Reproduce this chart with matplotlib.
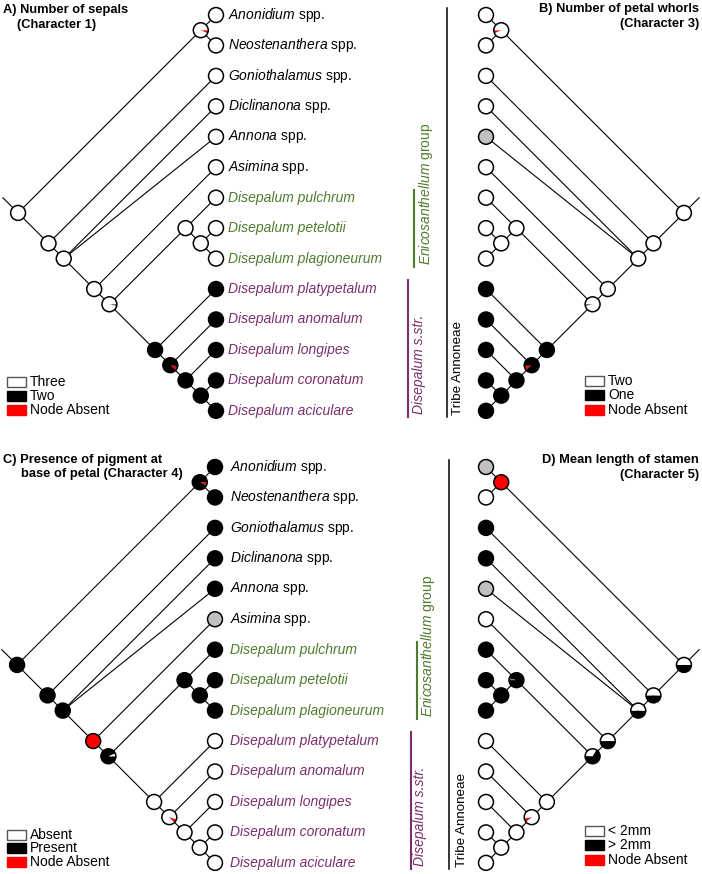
import matplotlib
matplotlib.use("Agg")
import matplotlib.pyplot as plt
from matplotlib.patches import Wedge, Circle, Rectangle

plt.rcParams['font.family'] = ['Liberation Sans', 'DejaVu Sans']
plt.rcParams['mathtext.fontset'] = 'custom'
plt.rcParams['mathtext.it'] = 'Liberation Sans:italic'
plt.rcParams['mathtext.rm'] = 'Liberation Sans'
plt.rcParams['mathtext.bf'] = 'Liberation Sans:bold'

W, K, R, G = 'white', 'black', '#ff0000', '#c0c0c0'
GREEN = '#4e7b2e'
PURPLE = '#7b2d6c'

# taxa, top to bottom
taxa = ["Anonidium", "Neostenanthera", "Goniothalamus", "Diclinanona", "Annona", "Asimina",
        "Disepalum pulchrum", "Disepalum petelotii", "Disepalum plagioneurum",
        "Disepalum platypetalum", "Disepalum anomalum", "Disepalum longipes",
        "Disepalum coronatum", "Disepalum aciculare"]
groups = ['out'] * 6 + ['enic'] * 3 + ['diss'] * 5

# tree topology: node -> children (tip index or node name)
tree = {
    'root': ['AN', 'n2'],
    'AN': [0, 1],
    'n2': [2, 'n3'],
    'n3': [3, 4, 'n4'],
    'n4': [5, 'n5'],
    'n5': ['E', 'D'],
    'E': [6, 'E2'],
    'E2': [7, 8],
    'D': [9, 'D2'],
    'D2': [10, 'D3'],
    'D3': [11, 'D4'],
    'D4': [12, 13],
}

# character states: tips and ancestral-state pies (colour, fraction), clockwise from 3 o'clock
char1_tips = [W] * 9 + [K] * 5
char1_nodes = {'root': [(W, 1)], 'AN': [(R, .07), (W, .93)], 'n2': [(W, 1)], 'n3': [(W, 1)],
               'n4': [(W, 1)], 'n5': [(K, .04), (W, .96)], 'E': [(W, 1)], 'E2': [(W, 1)],
               'D': [(K, 1)], 'D2': [(K, .05), (R, .08), (K, .87)], 'D3': [(K, 1)], 'D4': [(K, 1)]}

char3_tips = [W, W, W, W, G, W, W, W, W] + [K] * 5
char3_nodes = {'root': [(W, 1)], 'AN': [(R, .07), (W, .93)], 'n2': [(W, 1)], 'n3': [(W, 1)],
               'n4': [(W, 1)], 'n5': [(K, .04), (W, .96)], 'E': [(W, 1)], 'E2': [(W, 1)],
               'D': [(K, 1)], 'D2': [(K, .04), (R, .08), (K, .88)], 'D3': [(K, 1)], 'D4': [(K, 1)]}

char4_tips = [K, K, K, K, K, G, K, K, K] + [W] * 5
char4_nodes = {'root': [(K, 1)], 'AN': [(R, .07), (K, .93)], 'n2': [(K, 1)], 'n3': [(K, 1)],
               'n4': [(R, 1)], 'n5': [(K, .94), (W, .06)], 'E': [(K, 1)], 'E2': [(K, 1)],
               'D': [(W, 1)], 'D2': [(W, .05), (R, .08), (W, .87)], 'D3': [(W, 1)], 'D4': [(W, 1)]}

char5_tips = [G, W, K, K, G, W, K, K, K] + [W] * 5
char5_nodes = {'root': [(K, .5), (W, .5)], 'AN': [(R, 1)], 'n2': [(K, .5), (W, .5)],
               'n3': [(K, .5), (W, .5)], 'n4': [(K, .5), (W, .5)],
               'n5': [(K, .667), (W, .32), (K, .013)], 'E': [(K, .965), (W, .015), (K, .02)],
               'E2': [(K, 1)], 'D': [(W, 1)], 'D2': [(W, .03), (R, .08), (W, .89)],
               'D3': [(W, 1)], 'D4': [(W, 1)]}

NT = len(taxa)
U = 30.45      # pixels per tip spacing
RAD = 0.245


def span(node):
    if isinstance(node, int):
        return node, node
    s = [span(c) for c in tree[node]]
    return min(a for a, b in s), max(b for a, b in s)


def pos(node):
    if isinstance(node, int):
        return 0.0, NT - 1 - node
    lo, hi = span(node)
    return -(hi - lo) / 2.0, NT - 1 - (lo + hi) / 2.0


def draw_pie(ax, x, y, parts):
    start = 0.0
    for col, frac in parts:
        end = start - frac * 360
        ax.add_patch(Wedge((x, y), RAD, end, start, facecolor=col, edgecolor='none', zorder=3))
        start = end
    ax.add_patch(Circle((x, y), RAD, fill=False, edgecolor='black', lw=1.1, zorder=4))


def make_panel(fig, left, top, w, h, tipx, tip0y, mirror):
    ax = fig.add_axes([left / 702, 1 - (top + h) / 874, w / 702, h / 874])
    if mirror:
        ax.set_xlim((tipx - left) / U, (tipx - left - w) / U)
    else:
        ax.set_xlim((left - tipx) / U, (left + w - tipx) / U)
    ax.set_ylim(NT - 1 - (top + h - tip0y) / U, NT - 1 - (top - tip0y) / U)
    ax.axis('off')
    return ax


def draw_tree(ax, tips, nodes):
    for node, children in tree.items():
        x0, y0 = pos(node)
        for c in children:
            x1, y1 = pos(c)
            ax.plot([x0, x1], [y0, y1], color='black', lw=0.8, zorder=1)
    rx, ry = pos('root')
    ax.plot([rx, rx - 0.5], [ry, ry + 0.5], color='black', lw=0.8, zorder=1)
    for node in tree:
        draw_pie(ax, *pos(node), nodes[node])
    for i, col in enumerate(tips):
        draw_pie(ax, *pos(i), [(col, 1)])


def draw_labels(ax, xoff):
    for i, (name, grp) in enumerate(zip(taxa, groups)):
        y = NT - 1 - i
        if grp == 'out':
            ax.text(xoff, y, r"$\mathit{%s}$ spp." % name, fontsize=10, va='center', ha='left')
        else:
            ax.text(xoff, y, name, fontsize=10, va='center', ha='left', fontstyle='italic',
                    color=GREEN if grp == 'enic' else PURPLE)


def draw_brackets(ax, xs, tribe_x):
    bx, gx, px, gtx, ptx = xs
    ax.plot([bx, bx], [-0.2, NT - 1 + 0.24], color='black', lw=1.1)
    ax.plot([gx, gx], [4.72, 7.24], color=GREEN, lw=1.5)
    ax.plot([px, px], [-0.2, 4.3], color=PURPLE, lw=1.5)
    ax.text(tribe_x, -0.15, "Tribe Annoneae", rotation=90, fontsize=9.6, ha='center', va='bottom')
    ax.text(gtx, 4.78, r"$\mathit{Enicosanthellum}$ group", rotation=90, fontsize=10,
            ha='center', va='bottom', color=GREEN)
    ax.text(ptx, -0.1, "Disepalum s.str.", rotation=90, fontsize=10, ha='center', va='bottom',
            fontstyle='italic', color=PURPLE)


fig = plt.figure(figsize=(7.02, 8.74), dpi=100)

axA = make_panel(fig, 0, 0, 351, 437, 216, 15, False)
axB = make_panel(fig, 351, 0, 351, 437, 486, 15, True)
axC = make_panel(fig, 0, 437, 351, 437, 215, 467, False)
axD = make_panel(fig, 351, 437, 351, 437, 486, 467, True)

draw_tree(axA, char1_tips, char1_nodes)
draw_tree(axB, char3_tips, char3_nodes)
draw_tree(axC, char4_tips, char4_nodes)
draw_tree(axD, char5_tips, char5_nodes)

draw_labels(axA, 0.40)
draw_labels(axC, 0.48)

draw_brackets(axB, (1.28, 2.36, 2.56, 1.97, 2.2), 0.92)
draw_brackets(axD, (1.22, 2.27, 2.47, 1.9, 2.17), 0.79)

# titles and legends on a pixel overlay
bg = fig.add_axes([0, 0, 1, 1], zorder=-1)
bg.set_xlim(0, 702)
bg.set_ylim(874, 0)
bg.axis('off')

tkw = dict(fontsize=9.3, fontweight='bold', va='baseline')
bg.text(3, 12.5, "A) Number of sepals", ha='left', **tkw)
bg.text(17, 28, "(Character 1)", ha='left', **tkw)
bg.text(699, 12, "B) Number of petal whorls", ha='right', **tkw)
bg.text(699, 27.5, "(Character 3)", ha='right', **tkw)
bg.text(3, 463, "C) Presence of pigment at", ha='left', **tkw)
bg.text(21, 477.5, "base of petal (Character 4)", ha='left', **tkw)
bg.text(699, 463, "D) Mean length of stamen", ha='right', **tkw)
bg.text(699, 478, "(Character 5)", ha='right', **tkw)

legends = [
    (7, [382, 396, 410], ["Three", "Two", "Node Absent"]),
    (585, [381, 395, 410], ["Two", "One", "Node Absent"]),
    (7, [835, 848, 862], ["Absent", "Present", "Node Absent"]),
    (585, [831, 845, 860], ["< 2mm", "> 2mm", "Node Absent"]),
]
for lx, ys, labels in legends:
    for yc, lab, fc, ec in zip(ys, labels, [W, K, R], ['#555555', K, R]):
        bg.add_patch(Rectangle((lx, yc - 5), 19, 10, facecolor=fc, edgecolor=ec, lw=1))
        bg.text(lx + 23, yc, lab, fontsize=10, va='center', ha='left')

fig.savefig("out.png", dpi=100)
